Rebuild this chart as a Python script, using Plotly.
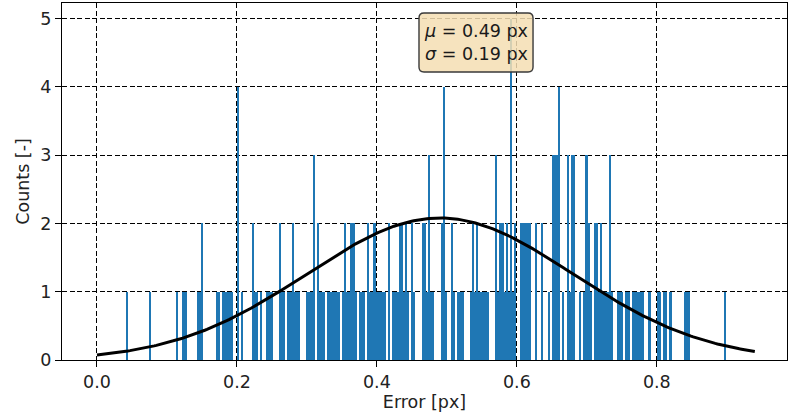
import numpy as np
import plotly.graph_objects as go

# Histogram data
bin_start = 0.038
bin_width = 0.003
counts = [
    0,1,0,0,0,0,0,0,0,0,
    0,0,1,0,0,0,0,0,0,0,
    0,0,0,0,0,1,0,0,1,1,
    0,0,0,0,0,1,1,2,0,0,
    0,0,0,0,1,1,0,1,1,1,
    1,1,0,0,4,0,1,0,0,0,
    0,2,1,1,0,1,0,0,1,1,
    1,0,0,0,2,1,1,0,1,1,
    2,1,1,1,0,0,0,1,1,1,
    3,0,2,1,1,1,0,1,1,1,
    1,1,1,0,1,2,1,1,2,2,
    1,0,1,1,1,0,2,1,1,2,
    1,1,1,1,1,0,2,0,1,1,
    1,2,2,1,2,1,0,2,1,0,
    0,0,2,2,1,3,1,1,0,0,
    0,2,4,1,0,0,2,1,0,1,
    1,1,0,0,0,1,2,1,2,1,
    1,1,1,1,0,0,0,3,1,2,
    2,1,2,1,5,1,2,0,0,2,
    2,2,2,2,0,0,2,0,0,2,
    0,0,1,0,3,3,3,4,0,1,
    0,3,1,3,3,0,0,1,0,1,
    3,2,1,0,2,2,1,2,1,1,
    1,3,1,0,0,1,1,1,0,1,
    1,0,1,1,1,1,1,1,0,0,
    1,0,0,0,1,1,0,1,1,0,
    1,0,0,0,0,0,0,1,1,1,
    0,0,0,0,0,0,0,0,0,0,
    0,0,0,0,0,0,1,0,
]
mu = 0.49
sigma = 0.19
fit_peak = 2.08
fit_x_min = 0.0
fit_x_max = 0.94
x_ticks = [0.0, 0.2, 0.4, 0.6, 0.8]
y_ticks = [0, 1, 2, 3, 4, 5]

centers = bin_start + bin_width * (np.arange(len(counts)) + 0.5)
xf = np.linspace(fit_x_min, fit_x_max, 300)
yf = fit_peak * np.exp(-(xf - mu) ** 2 / (2 * sigma ** 2))

FONT = "DejaVu Sans"
FS = 17.5
fig = go.Figure()
fig.add_trace(go.Bar(x=centers, y=counts, width=bin_width,
                     marker=dict(color="#1f77b4", line=dict(width=0)),
                     showlegend=False))
fig.add_trace(go.Scatter(x=xf, y=yf, mode="lines",
                         line=dict(color="black", width=3), showlegend=False))

axis_common = dict(showline=True, mirror=True, linecolor="black", linewidth=1.4,
                   ticks="outside", ticklen=6, tickwidth=1.4, tickcolor="black",
                   showgrid=True, gridcolor="black", gridwidth=1,
                   griddash="5px,2.5px", zeroline=False, layer="above traces",
                   tickfont=dict(family=FONT, size=FS, color="#222222"))

fig.update_layout(
    width=794, height=418,
    margin=dict(l=62, r=7, t=3, b=58),
    plot_bgcolor="white", paper_bgcolor="white",
    bargap=0,
    xaxis=dict(range=[-0.05, 0.986], tickvals=x_ticks, tickformat=".1f",
               title=dict(text="Error [px]", standoff=4,
                          font=dict(family=FONT, size=FS, color="#222222")),
               **axis_common),
    yaxis=dict(range=[0, 5.23], tickvals=y_ticks,
               title=dict(text="Counts [-]", standoff=6,
                          font=dict(family=FONT, size=FS, color="#222222")),
               **axis_common),
)

# rounded info box
x0, x1, y0, y1 = 0.4924, 0.6497, 0.8067, 0.972
rx, ry = 0.0069, 0.014
path = (f"M {x0+rx},{y0} L {x1-rx},{y0} Q {x1},{y0} {x1},{y0+ry} "
        f"L {x1},{y1-ry} Q {x1},{y1} {x1-rx},{y1} L {x0+rx},{y1} "
        f"Q {x0},{y1} {x0},{y1-ry} L {x0},{y0+ry} Q {x0},{y0} {x0+rx},{y0} Z")
fig.add_shape(type="path", path=path, xref="paper", yref="paper",
              fillcolor="rgba(245,222,179,0.85)",
              line=dict(color="#3a3a3a", width=1.4), layer="above")
fig.add_annotation(xref="paper", yref="paper", x=(x0 + x1) / 2, y=(y0 + y1) / 2,
                   xanchor="center", yanchor="middle",
                   text=f"<i>μ</i> = {mu:.2f} px<br><i>σ</i> = {sigma:.2f} px",
                   showarrow=False, align="left",
                   font=dict(family=FONT, size=FS, color="#1a1a1a"))

fig.write_html("out.html")
